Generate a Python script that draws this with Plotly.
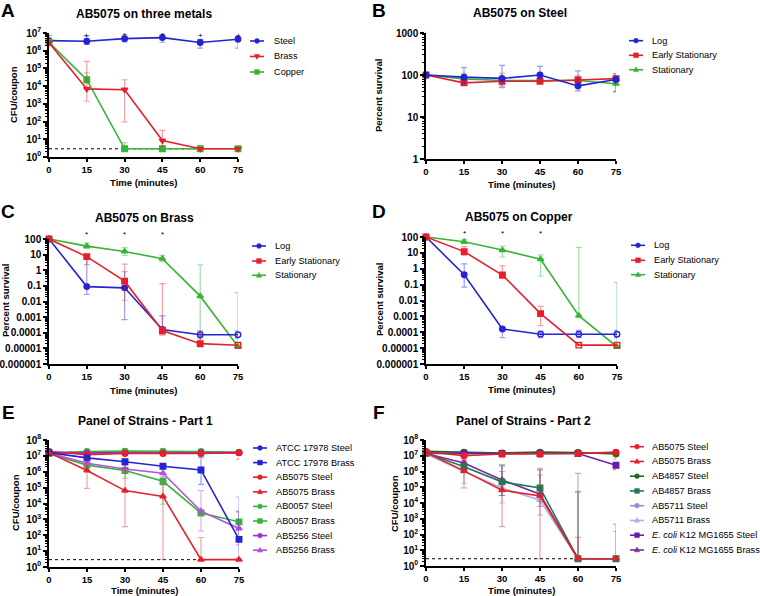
import plotly.graph_objects as go

W, H = 760, 596
FONT = "Liberation Sans, Arial, sans-serif"

# ---------------- data ----------------
time = [0, 15, 30, 45, 60, 75]
lod_time = [0, 60]
lod_cfu = 2.9

# Panel A  (CFU/coupon)
A_steel = [3.7e6, 3.4e6, 4.8e6, 5.5e6, 2.9e6, 4.4e6]
A_steel_hi = [7.4e6, 6.8e6, 7.7e6, 8.5e6, 4.4e6, 6.5e6]
A_steel_lo = [2.5e6, 2.3e6, 3.1e6, 3.0e6, 1.4e6, 1.4e6]
A_brass = [2.8e6, 7.0e3, 6.3e3, 8.5, 2.9, 2.9]
A_brass_hi = [None, 2.5e5, 2.3e4, 3.2e1, None, None]
A_brass_lo = [None, 1.4e3, 9.5e1, 4.0, None, None]
A_copper = [3.0e6, 2.3e4, 2.9, 2.9, 2.9, 2.9]
A_copper_hi = [None, 5.6e4, 6.5, None, None, None]
A_copper_lo = [None, 1.5e4, None, None, None, None]
A_marks = ["", "+", "*", "*", "+", "+"]

# Panel B  (percent survival on steel)
B_log = [100, 89, 83, 100, 55, 78]
B_log_hi = [None, 150, 170, 160, 125, 108]
B_log_lo = [None, 62, 50, 82, 42, 40]
B_es = [100, 65, 71, 71, 76, 82]
B_es_hi = [None, 75, 110, 78, 95, 100]
B_es_lo = [None, 58, 55, 64, 60, 65]
B_st = [100, 81, 74, 74, 74, 62]
B_st_hi = [None, 110, 85, 80, 82, 90]
B_st_lo = [None, 70, 62, 68, 66, 40]

# Panel C  (percent survival on brass)
C_log = [100, 0.09, 0.075, 1.6e-4, 7.5e-5, 7.5e-5]
C_log_hi = [None, 5.0, 0.8, 1.2e-3, 1.3e-4, 1.3e-4]
C_log_lo = [None, 0.028, 7e-4, 8e-5, 4.5e-5, 4.5e-5]
C_es = [100, 7.5, 0.2, 1.4e-4, 2.0e-5, 1.6e-5]
C_es_hi = [None, 9.0, 2.5, 0.14, 1.0e-4, None]
C_es_lo = [None, 2.3, 0.012, 7e-5, 1.5e-5, None]
C_st = [100, 35, 16, 5.5, 0.022, 1.3e-5]
C_st_hi = [None, 55, 28, 9.0, 2.2, 0.037]
C_st_lo = [None, 25, 9.0, 3.5, 1.2e-5, None]
C_marks = ["", "*", "*", "*", "", ""]

# Panel D  (percent survival on copper)
D_log = [100, 0.42, 1.6e-4, 7.5e-5, 7.5e-5, 7.5e-5]
D_log_hi = [None, 2.0, None, 1.2e-4, 1.3e-4, 1.3e-4]
D_log_lo = [None, 0.07, 4.5e-5, 4.5e-5, 4.5e-5, 4.5e-5]
D_es = [100, 12, 0.4, 1.5e-3, 1.55e-5, 1.55e-5]
D_es_hi = [None, 25, 1.5, 4.3e-3, 2.0e-5, 2.0e-5]
D_es_lo = [None, 7.0, 0.25, 2.6e-4, None, None]
D_st = [100, 50, 15, 4.0, 1.1e-3, 1.2e-5]
D_st_hi = [None, 70, 27, 7.4, 22, 0.14]
D_st_lo = [None, 38, 5.5, 0.35, None, None]
D_marks = ["", "*", "*", "*", "", ""]

# Panel E  (panel of strains part 1, CFU/coupon)
E_atcc_steel = [1.6e7, 1.6e7, 1.8e7, 1.7e7, 1.7e7, 1.6e7]
E_atcc_brass = [1.6e7, 7.5e6, 4.3e6, 2.2e6, 1.3e6, 55]
E_atcc_brass_hi = [None, None, 6.0e6, None, 8.0e6, 3.0e3]
E_atcc_brass_lo = [None, None, 3.6e6, None, 1.6e5, 3.5]
E_ab5075_steel = [1.9e7, 1.2e7, 1.4e7, 1.4e7, 1.4e7, 1.6e7]
E_ab5075_steel_hi = [2.5e7, 1.5e7, 1.8e7, 1.8e7, 1.8e7, 2.0e7]
E_ab5075_steel_lo = [1.4e7, 1.0e7, 1.1e7, 1.0e7, 1.0e7, 6.0e6]
E_ab5075_brass = [1.6e7, 1.2e6, 6.5e4, 2.8e4, 2.9, 2.9]
E_ab5075_brass_hi = [None, 5.5e6, 1.6e6, 1.5e5, 72, None]
E_ab5075_brass_lo = [None, 9.0e4, 350, 3.0, None, None]
E_ab0057_steel = [1.5e7, 1.9e7, 2.0e7, 2.0e7, 1.9e7, 1.7e7]
E_ab0057_brass = [1.4e7, 2.6e6, 1.2e6, 2.5e5, 2.5e3, 700]
E_ab0057_brass_hi = [None, None, 2.5e6, 4.7e5, None, 3.4e3]
E_ab0057_brass_lo = [None, None, 3.9e5, 9.0e3, None, 180]
E_ab5256_steel = [1.6e7, 1.5e7, 1.5e7, 1.5e7, 1.6e7, 1.6e7]
E_ab5256_brass = [1.5e7, 3.4e6, 1.5e6, 8.0e5, 3.3e3, 270]
E_ab5256_brass_hi = [None, None, None, 1.6e6, 6.5e4, 2.5e4]
E_ab5256_brass_lo = [None, None, None, 3.0e5, 190, 25]

# Panel F  (panel of strains part 2, CFU/coupon)
F_ab5075_steel = [1.8e7, 1.0e7, 1.3e7, 1.3e7, 1.4e7, 1.7e7]
F_ab5075_steel_hi = [2.5e7, 1.3e7, 1.8e7, 1.8e7, 1.8e7, 2.2e7]
F_ab5075_steel_lo = [1.3e7, 7.0e6, 8.0e6, 8.0e6, 9.0e6, 6.0e6]
F_ab5075_brass = [1.6e7, 1.1e6, 6.5e4, 2.8e4, 2.9, 2.9]
F_ab5075_brass_hi = [None, 4.7e6, 1.0e6, 1.4e6, 65, None]
F_ab5075_brass_lo = [None, 9.0e4, 320, 2.9, None, None]
F_ab4857_steel = [1.9e7, 1.7e7, 1.5e7, 1.7e7, 1.6e7, 1.3e7]
F_ab4857_brass = [1.5e7, 2.0e6, 2.2e5, 9.0e4, 2.9, 2.9]
F_ab4857_brass_hi = [None, None, 2.5e6, 6.0e5, 7.7e5, 450]
F_ab4857_brass_lo = [None, None, 3.0e4, 3.0e4, None, None]
F_ab5711_steel = [1.4e7, 1.3e7, 1.4e7, 1.5e7, 1.5e7, 1.5e7]
F_ab5711_brass = [1.3e7, 1.0e6, 9.0e4, 1.5e4, 2.9, 2.9]
F_ab5711_brass_hi = [None, 4.0e6, 2.0e6, 1.6e6, 4.5e4, 160]
F_ab5711_brass_lo = [None, 1.8e5, 1.0e4, 1.7e3, None, None]
F_ecoli_steel = [1.5e7, 1.4e7, 1.4e7, 1.4e7, 1.4e7, 2.5e6]
F_ecoli_steel_hi = [None, None, None, None, None, 3.5e6]
F_ecoli_steel_lo = [None, None, None, None, None, 1.3e6]
F_ecoli_brass = [1.4e7, 3.5e6, 2.9e5, 3.6e4, 2.9, 2.9]
F_ecoli_brass_hi = [None, 5.5e6, 2.6e6, 1.2e6, 5.5e4, None]
F_ecoli_brass_lo = [None, 2.5e6, 3.0e4, 6.0e3, None, None]

cfu_ticks = [1e0, 1e1, 1e2, 1e3, 1e4, 1e5, 1e6, 1e7, 1e8]
cfu_labels = ["10<sup>%d</sup>" % k for k in range(9)]
pct_ticks_B = [1, 10, 100, 1000]
pct_labels_B = ["1", "10", "100", "1000"]
pct_ticks_CD = [1e-6, 1e-5, 1e-4, 1e-3, 1e-2, 1e-1, 1, 10, 100]
pct_labels_CD = ["0.000001", "0.00001", "0.0001", "0.001", "0.01", "0.1", "1", "10", "100"]

# ---------------- styling ----------------
def px(x):
    return x / W

def py(y):
    return 1 - y / H

BLUE, BLUE_E = "#2424d4", "rgba(36,36,212,0.45)"
RED, RED_E = "#e5202a", "rgba(229,32,42,0.42)"
GREEN, GREEN_E = "#35b535", "rgba(53,181,53,0.45)"
PUR1, PUR1_E = "#a02cd8", "rgba(160,44,216,0.45)"
PUR2, PUR2_E = "#b550e2", "rgba(181,80,226,0.45)"
DKG, DKG_E = "#1b6b1b", "rgba(27,107,27,0.45)"
TEAL, TEAL_E = "#21795a", "rgba(33,121,90,0.45)"
LB1, LB1_E = "#8c92d6", "rgba(120,130,170,0.55)"
LB2, LB2_E = "#aeb2e8", "rgba(140,150,190,0.5)"
EC1, EC1_E = "#6a1ca8", "rgba(106,28,168,0.45)"
EC2, EC2_E = "#7b2f92", "rgba(123,47,146,0.45)"

# plot areas in pixels: (x0, x1, y_top, y_bottom)
areas = {
    1: (49, 238, 33, 157),
    2: (426, 616, 33, 159),
    3: (49, 238, 239, 364),
    4: (426, 617, 237, 364),
    5: (49, 239, 440, 567),
    6: (426, 616, 440, 566),
}
yranges = {1: [0, 7], 2: [0, 3], 3: [-6, 2], 4: [-6, 2], 5: [0, 8], 6: [0, 8]}
yticks = {
    1: (cfu_ticks[:8], cfu_labels[:8]),
    2: (pct_ticks_B, pct_labels_B),
    3: (pct_ticks_CD, pct_labels_CD),
    4: (pct_ticks_CD, pct_labels_CD),
    5: (cfu_ticks, cfu_labels),
    6: (cfu_ticks, cfu_labels),
}

fig = go.Figure()


def ax_names(i):
    return ("x", "y") if i == 1 else ("x%d" % i, "y%d" % i)


def err_arrays(y, hi, lo):
    plus = [(h - v) if h is not None else 0 for v, h in zip(y, hi)]
    minus = [(v - l) if l is not None else 0 for v, l in zip(y, lo)]
    return plus, minus


def add_series(i, name, y, hi, lo, color, ecolor, symbol):
    xa, ya = ax_names(i)
    e = {}
    if hi is not None:
        plus, minus = err_arrays(y, hi, lo)
        e = dict(error_y=dict(type="data", symmetric=False, array=plus, arrayminus=minus,
                              color=ecolor, thickness=1.2, width=3))
    fig.add_trace(go.Scatter(
        x=time, y=y, name=name, mode="lines+markers", xaxis=xa, yaxis=ya,
        line=dict(color=color, width=1.6),
        marker=dict(color=color, size=5.5, symbol=symbol, line=dict(color=color, width=1.4)),
        cliponaxis=False, showlegend=False, **e))


def add_lod(i):
    xa, ya = ax_names(i)
    fig.add_trace(go.Scatter(
        x=lod_time, y=[lod_cfu, lod_cfu], mode="lines", xaxis=xa, yaxis=ya,
        line=dict(color="black", width=1, dash="dot"), showlegend=False, hoverinfo="skip"))


open_c = lambda n_open: ["circle"] * (6 - n_open) + ["circle-open"] * n_open
open_s = lambda n_open: ["square"] * (6 - n_open) + ["square-open"] * n_open

# A
add_lod(1)
add_series(1, "Steel", A_steel, A_steel_hi, A_steel_lo, BLUE, BLUE_E, "circle")
add_series(1, "Copper", A_copper, A_copper_hi, A_copper_lo, GREEN, GREEN_E, "square")
add_series(1, "Brass", A_brass, A_brass_hi, A_brass_lo, RED, RED_E, "triangle-down")
# B
add_series(2, "Stationary", B_st, B_st_hi, B_st_lo, GREEN, GREEN_E, "triangle-up")
add_series(2, "Early Stationary", B_es, B_es_hi, B_es_lo, RED, RED_E, "square")
add_series(2, "Log", B_log, B_log_hi, B_log_lo, BLUE, BLUE_E, "circle")
# C
add_series(3, "Stationary", C_st, C_st_hi, C_st_lo, GREEN, GREEN_E, "triangle-up")
add_series(3, "Log", C_log, C_log_hi, C_log_lo, BLUE, BLUE_E, open_c(2))
add_series(3, "Early Stationary", C_es, C_es_hi, C_es_lo, RED, RED_E, open_s(1))
# D
add_series(4, "Stationary", D_st, D_st_hi, D_st_lo, GREEN, GREEN_E, "triangle-up")
add_series(4, "Log", D_log, D_log_hi, D_log_lo, BLUE, BLUE_E, open_c(3))
add_series(4, "Early Stationary", D_es, D_es_hi, D_es_lo, RED, RED_E, open_s(2))
# E
add_lod(5)
add_series(5, "ATCC 17978 Steel", E_atcc_steel, None, None, BLUE, BLUE_E, "circle")
add_series(5, "AB0057 Steel", E_ab0057_steel, None, None, GREEN, GREEN_E, "circle")
add_series(5, "AB5256 Steel", E_ab5256_steel, None, None, PUR1, PUR1_E, "circle")
add_series(5, "AB5075 Steel", E_ab5075_steel, E_ab5075_steel_hi, E_ab5075_steel_lo, RED, RED_E, "circle")
add_series(5, "AB0057 Brass", E_ab0057_brass, E_ab0057_brass_hi, E_ab0057_brass_lo, GREEN, GREEN_E, "square")
add_series(5, "AB5256 Brass", E_ab5256_brass, E_ab5256_brass_hi, E_ab5256_brass_lo, PUR2, PUR2_E, "triangle-up")
add_series(5, "ATCC 17978 Brass", E_atcc_brass, E_atcc_brass_hi, E_atcc_brass_lo, BLUE, BLUE_E, "square")
add_series(5, "AB5075 Brass", E_ab5075_brass, E_ab5075_brass_hi, E_ab5075_brass_lo, RED, RED_E, "triangle-up")
# F
add_lod(6)
add_series(6, "AB5711 Steel", F_ab5711_steel, None, None, LB1, LB1_E, "circle")
add_series(6, "AB4857 Steel", F_ab4857_steel, None, None, DKG, DKG_E, "circle")
add_series(6, "E. coli K12 MG1655 Steel", F_ecoli_steel, F_ecoli_steel_hi, F_ecoli_steel_lo, EC1, EC1_E, "square")
add_series(6, "AB5711 Brass", F_ab5711_brass, F_ab5711_brass_hi, F_ab5711_brass_lo, LB2, LB2_E, "triangle-up")
add_series(6, "E. coli K12 MG1655 Brass", F_ecoli_brass, F_ecoli_brass_hi, F_ecoli_brass_lo, EC2, EC2_E, "triangle-up")
add_series(6, "AB4857 Brass", F_ab4857_brass, F_ab4857_brass_hi, F_ab4857_brass_lo, TEAL, TEAL_E, "square")
add_series(6, "AB5075 Brass", F_ab5075_brass, F_ab5075_brass_hi, F_ab5075_brass_lo, RED, RED_E, "triangle-up")
add_series(6, "AB5075 Steel", F_ab5075_steel, F_ab5075_steel_hi, F_ab5075_steel_lo, RED, RED_E, "circle")

# ---------------- axes ----------------
layout = dict(
    width=W, height=H, margin=dict(l=0, r=0, t=0, b=0, autoexpand=False),
    paper_bgcolor="white", plot_bgcolor="white",
    font=dict(family=FONT, color="black"),
    showlegend=False,
)
for i, (x0, x1, yt, yb) in areas.items():
    xk = "xaxis" if i == 1 else "xaxis%d" % i
    yk = "yaxis" if i == 1 else "yaxis%d" % i
    xa, ya = ax_names(i)
    layout[xk] = dict(
        domain=[px(x0), px(x1)], anchor=ya, range=[0, 75], tickvals=time, automargin=False,
        showline=True, linecolor="black", linewidth=1.5, ticks="outside", ticklen=3,
        tickwidth=1.5, tickcolor="black", showgrid=False, zeroline=False,
        tickfont=dict(size=9.5, weight="bold", family=FONT))
    tv, tt = yticks[i]
    lo, hi = yranges[i]
    minor_vals = [m * 10.0 ** k for k in range(lo, hi) for m in range(2, 10)]
    layout[yk] = dict(
        domain=[py(yb), py(yt)], anchor=xa, type="log", range=yranges[i], automargin=False,
        tickvals=tv, ticktext=tt, showline=True, linecolor="black", linewidth=1.5,
        ticks="outside", ticklen=4, tickwidth=1.5, tickcolor="black",
        showgrid=False, zeroline=False,
        minor=dict(tickmode="array", tickvals=minor_vals, ticks="outside", ticklen=2,
                   tickwidth=1, tickcolor="black", showgrid=False),
        tickfont=dict(size=10, weight="bold", family=FONT))

annotations = []
shapes = []


def txt(x, y, text, size, bold=False, angle=0, xanchor="center"):
    annotations.append(dict(
        x=px(x), y=py(y), xref="paper", yref="paper", text=("<b>%s</b>" % text) if bold else text,
        showarrow=False, xanchor=xanchor, yanchor="middle", textangle=angle,
        font=dict(size=size, family=FONT, color="black")))

# panel letters
for L, (x, y) in zip("ABCDEF", [(8, 10), (379, 10), (8, 211), (379, 211), (8, 412), (379, 412)]):
    txt(x, y, L, 19, bold=True)

# panel titles
titles = ["AB5075 on three metals", "AB5075 on Steel", "AB5075 on Brass",
          "AB5075 on Copper", "Panel of Strains - Part 1", "Panel of Strains - Part 2"]
for t, (x, y) in zip(titles, [(144, 14), (520, 13), (144, 218), (519, 217), (145, 421), (523, 421)]):
    txt(x, y, t, 12, bold=True)

# axis titles
for (x, y) in [(143, 183), (521, 184), (143, 390), (521, 389), (144, 590), (521, 590)]:
    txt(x, y, "Time (minutes)", 9.5, bold=True)
ytitles = ["CFU/coupon", "Percent survival", "Percent survival", "Percent survival",
           "CFU/coupon", "CFU/coupon"]
for t, (x, y) in zip(ytitles, [(14, 95), (378, 96), (5, 301), (379, 300), (15, 503), (394, 503)]):
    txt(x, y, t, 9.5, bold=True, angle=-90)

# significance marks
for i, marks, ypix in [(1, A_marks, 29), (3, C_marks, 235), (4, D_marks, 234)]:
    xa, _ = ax_names(i)
    for t, m in zip(time, marks):
        if m:
            annotations.append(dict(x=t, y=py(ypix), xref=xa, yref="paper", text=m,
                                    showarrow=False, font=dict(size=8, family=FONT, color="black")))


# manual legends
def marker_shape(cx, cy, sym, color, r=2.4):
    if sym == "circle":
        shapes.append(dict(type="circle", xref="paper", yref="paper",
                           x0=px(cx - r), x1=px(cx + r), y0=py(cy + r), y1=py(cy - r),
                           fillcolor=color, line=dict(color=color, width=0.5)))
    elif sym == "square":
        shapes.append(dict(type="rect", xref="paper", yref="paper",
                           x0=px(cx - r), x1=px(cx + r), y0=py(cy + r), y1=py(cy - r),
                           fillcolor=color, line=dict(color=color, width=0.5)))
    else:
        s = 1 if sym == "triangle-up" else -1
        pts = [(cx, cy - s * r * 1.2), (cx - r * 1.1, cy + s * r * 0.8), (cx + r * 1.1, cy + s * r * 0.8)]
        path = "M %f,%f L %f,%f L %f,%f Z" % tuple(v for p in pts for v in (px(p[0]), py(p[1])))
        shapes.append(dict(type="path", xref="paper", yref="paper", path=path,
                           fillcolor=color, line=dict(color=color, width=0.5)))


def legend(lx0, lx1, tx, ys, items):
    for y, (label, color, sym) in zip(ys, items):
        shapes.append(dict(type="line", xref="paper", yref="paper", x0=px(lx0), x1=px(lx1),
                           y0=py(y), y1=py(y), line=dict(color=color, width=1.6)))
        marker_shape((lx0 + lx1) / 2, y, sym, color)
        txt(tx, y, label, 9.2, xanchor="left")

legend(250, 264, 272, [41, 56.5, 72],
       [("Steel", BLUE, "circle"), ("Brass", RED, "triangle-down"), ("Copper", GREEN, "square")])
growth = [("Log", BLUE, "circle"), ("Early Stationary", RED, "square"), ("Stationary", GREEN, "triangle-up")]
legend(629, 643, 650, [40.7, 55.3, 69.7], growth)
legend(252, 266, 273, [246, 261, 275.3], growth)
legend(631, 645, 652, [245.3, 260.3, 274.7], growth)
legend(253, 267, 274, [448 + 14.6 * k for k in range(8)],
       [("ATCC 17978 Steel", BLUE, "circle"), ("ATCC 17978 Brass", BLUE, "square"),
        ("AB5075 Steel", RED, "circle"), ("AB5075 Brass", RED, "triangle-up"),
        ("AB0057 Steel", GREEN, "circle"), ("AB0057 Brass", GREEN, "square"),
        ("AB5256 Steel", PUR1, "circle"), ("AB5256 Brass", PUR2, "triangle-up")])
legend(630, 644, 650, [446.7 + 14.75 * k for k in range(8)],
       [("AB5075 Steel", RED, "circle"), ("AB5075 Brass", RED, "triangle-up"),
        ("AB4857 Steel", DKG, "circle"), ("AB4857 Brass", TEAL, "square"),
        ("AB5711 Steel", LB1, "circle"), ("AB5711 Brass", LB2, "triangle-up"),
        ("<i>E. coli</i> K12 MG1655 Steel", EC1, "square"),
        ("<i>E. coli</i> K12 MG1655 Brass", EC2, "triangle-up")])

layout["annotations"] = annotations
layout["shapes"] = shapes
fig.update_layout(**layout)
fig.write_html("out.html", config={"displayModeBar": False},
               post_script="document.body.style.margin='0px';document.body.style.padding='0px';")
